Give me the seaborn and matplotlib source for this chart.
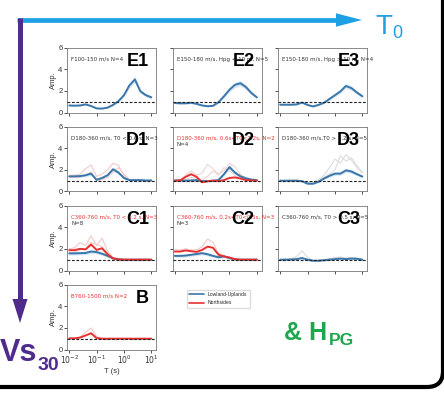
import matplotlib
matplotlib.use("Agg")
import matplotlib.pyplot as plt
import seaborn as sns
from matplotlib.patches import FancyBboxPatch, Polygon
from matplotlib.lines import Line2D

sns.set_theme(style="ticks")
plt.rcParams["font.family"] = ["Liberation Sans", "DejaVu Sans"]

# ---------------------------------------------------------------- data
period = [0.01, 0.0158, 0.0251, 0.0398, 0.0631, 0.1, 0.158, 0.251,
          0.398, 0.631, 1.0, 1.58, 2.51, 3.98, 6.31, 10.0]

E1_blue = [0.65, 0.63, 0.65, 0.75, 0.6, 0.38, 0.36, 0.45, 0.7, 1.05, 1.6, 2.5, 3.05, 1.95, 1.6, 1.4]
E2_blue = [0.88, 0.85, 0.85, 0.9, 0.8, 0.65, 0.58, 0.62, 0.95, 1.5, 2.1, 2.55, 2.7, 2.35, 1.8, 1.4]
E3_blue = [0.72, 0.72, 0.72, 0.75, 0.92, 0.7, 0.56, 0.7, 0.9, 1.25, 1.6, 1.95, 2.45, 2.25, 1.85, 1.5]

D1_blue = [1.4, 1.4, 1.42, 1.5, 1.65, 1.08, 1.25, 1.5, 2.05, 1.75, 1.25, 1.05, 1.05, 1.05, 1.02, 1.02]
D1_faint_a = [1.5, 1.5, 1.6, 2.1, 2.45, 1.4, 1.6, 2.0, 2.6, 2.4, 1.5, 1.1, 1.05, 1.05, 1.0, 1.0]
D1_faint_b = [1.3, 1.3, 1.35, 1.5, 1.8, 1.0, 1.1, 1.3, 1.8, 2.2, 1.6, 1.1, 1.02, 1.0, 1.0, 1.0]

D2_blue = [1.02, 1.02, 1.0, 1.02, 1.05, 0.95, 0.95, 1.0, 1.05, 1.6, 2.25, 1.75, 1.4, 1.22, 1.1, 1.05]
D2_red = [1.0, 1.02, 1.35, 1.6, 1.35, 0.85, 0.95, 1.0, 0.95, 1.05, 1.25, 1.3, 1.2, 1.05, 1.02, 1.0]
D2_faint_a = [1.0, 1.05, 1.5, 1.9, 1.5, 1.7, 2.5, 2.1, 1.6, 1.9, 2.6, 2.3, 1.6, 1.2, 1.05, 1.0]
D2_faint_b = [1.0, 1.0, 1.1, 1.3, 1.2, 1.0, 1.4, 1.9, 1.5, 2.2, 1.9, 1.5, 1.2, 1.1, 1.0, 1.0]

D3_blue = [1.0, 1.0, 1.0, 1.0, 0.95, 0.72, 0.72, 0.9, 1.2, 1.45, 1.65, 1.65, 1.95, 1.85, 1.6, 1.38]
D3_faint_a = [1.0, 1.0, 1.05, 1.0, 1.0, 0.8, 0.9, 1.1, 1.5, 2.2, 3.0, 2.6, 3.4, 2.9, 2.2, 1.7]
D3_faint_b = [1.0, 1.0, 1.0, 1.05, 1.0, 0.85, 0.8, 1.0, 1.3, 1.6, 2.0, 3.3, 2.8, 3.1, 2.4, 1.8]

C1_blue = [1.58, 1.58, 1.6, 1.62, 1.75, 1.7, 1.55, 1.35, 1.12, 1.03, 1.0, 1.0, 1.0, 1.0, 1.0, 1.0]
C1_red = [1.88, 1.88, 2.0, 1.95, 2.4, 1.9, 2.05, 1.5, 1.12, 1.02, 1.0, 1.0, 1.0, 1.0, 1.0, 1.0]
C1_faint_a = [2.0, 2.1, 2.6, 2.3, 3.2, 2.3, 3.0, 1.8, 1.2, 1.05, 1.0, 1.0, 1.0, 1.0, 1.0, 1.0]
C1_faint_b = [1.7, 1.7, 1.9, 2.0, 2.6, 2.4, 2.2, 1.6, 1.15, 1.02, 1.0, 1.0, 1.0, 1.0, 1.0, 1.0]

C2_blue = [1.35, 1.35, 1.38, 1.45, 1.52, 1.6, 1.5, 1.35, 1.22, 1.3, 1.15, 1.02, 1.0, 1.0, 1.0, 1.0]
C2_red = [1.75, 1.75, 1.85, 1.78, 1.72, 1.9, 2.2, 2.1, 1.45, 1.3, 1.2, 1.05, 1.0, 1.0, 1.0, 1.0]
C2_faint_a = [1.9, 1.9, 2.0, 1.9, 1.9, 2.2, 2.9, 2.6, 1.6, 1.4, 1.1, 1.0, 1.0, 1.0, 1.0, 1.0]

C3_blue = [1.0, 1.0, 1.02, 1.05, 1.15, 1.0, 0.9, 0.9, 0.95, 1.0, 1.05, 1.1, 1.05, 1.1, 1.08, 1.0]
C3_faint_a = [1.0, 1.05, 1.1, 1.3, 1.8, 1.2, 0.95, 0.95, 1.0, 1.1, 1.2, 1.25, 1.15, 1.2, 1.15, 1.05]

B_red = [1.02, 1.03, 1.1, 1.3, 1.5, 1.05, 1.0, 1.0, 1.0, 1.0, 1.0, 1.0, 1.0, 1.0, 1.0, 1.0]
B_faint_a = [1.05, 1.05, 1.15, 1.6, 2.0, 1.2, 1.0, 1.0, 1.0, 1.0, 1.0, 1.0, 1.0, 1.0, 1.0, 1.0]

xtick_values = [0.01, 0.1, 1, 10]
xtick_labels = [r"$10^{-2}$", r"$10^{-1}$", r"$10^{0}$", r"$10^{1}$"]
ytick_values = [0, 2, 4, 6]
legend_labels = ["Lowland-Uplands", "Northsides"]

# (label, row, col, note, note colour, second line, blue, red, faint curves, faint colour)
panels = [
    ("E1", 0, 0, "F100-150 m/s N=4", "#333333", None, E1_blue, None, [], None),
    ("E2", 0, 1, "E150-180 m/s, Hpg < 10 m, N=5", "#333333", None, E2_blue, None, [], None),
    ("E3", 0, 2, "E150-180 m/s, Hpg > 10 m, N=4", "#333333", None, E3_blue, None, [], None),
    ("D1", 1, 0, "D180-360 m/s, T0 < 0.6 s, N=3", "#333333", None, D1_blue, None,
     [D1_faint_a, D1_faint_b], "#f3c9c9"),
    ("D2", 1, 1, "D180-360 m/s, 0.6s<T0<1.2s, N=2", "#e8302f", "N=4", D2_blue, D2_red,
     [D2_faint_a, D2_faint_b], "#ecd6d6"),
    ("D3", 1, 2, "D180-360 m/s,T0 > 1.2 s, N=5", "#333333", None, D3_blue, None,
     [D3_faint_a, D3_faint_b], "#dcdcdc"),
    ("C1", 2, 0, "C360-760 m/s, T0 < 0.2 s, N=3", "#e8302f", "N=8", C1_blue, C1_red,
     [C1_faint_a, C1_faint_b], "#f3c9c9"),
    ("C2", 2, 1, "C360-760 m/s, 0.2s<T0<0.5s, N=3", "#e8302f", "N=3", C2_blue, C2_red,
     [C2_faint_a], "#f3c9c9"),
    ("C3", 2, 2, "C360-760 m/s, T0 > 0.5 s, N=5", "#333333", None, C3_blue, None,
     [C3_faint_a], "#dcdcdc"),
    ("B", 3, 0, "B760-1500 m/s N=2", "#e8302f", None, None, B_red,
     [B_faint_a], "#f3c9c9"),
]

# ---------------------------------------------------------------- style
W, H = 444, 393
BLUE = "#3a76a9"
RED = "#e8302f"
CYAN = "#1ea0e4"
PURPLE = "#4f2b8e"
GREEN = "#1ea64d"

col_left = [67, 172.5, 278]
row_top = [47.5, 126.5, 205.5, 284.5]
ax_w, ax_h = 89, 65


def rect(left, top, w, h):
    return [left / W, 1 - (top + h) / H, w / W, h / H]


fig = plt.figure(figsize=(W / 100, H / 100), dpi=100, facecolor="white")

# decoration layer in pixel coordinates
deco = fig.add_axes([0, 0, 1, 1], zorder=-1)
deco.set_xlim(0, W)
deco.set_ylim(H, 0)
deco.axis("off")

frame = FancyBboxPatch((-30, -30), 473, 417, boxstyle="round,pad=0,rounding_size=16",
                       fill=False, ec="black", lw=3.0)
deco.add_patch(frame)

deco.plot([17, 340], [20, 20], color=CYAN, lw=3.4, solid_capstyle="butt")
deco.add_patch(Polygon([(336, 13.3), (362, 20), (336, 26.7)], closed=True, color=CYAN, lw=0))
deco.plot([20, 20], [17.5, 302], color=PURPLE, lw=3.6, solid_capstyle="butt")
deco.add_patch(Polygon([(12.5, 299), (27.5, 299), (20, 323)], closed=True, color=PURPLE, lw=0))

deco.text(375, 34, "T", fontsize=20, color=CYAN, va="baseline", ha="left")
deco.text(392, 38.5, "0", fontsize=13, color=CYAN, va="baseline", ha="left")
deco.text(0, 361, "Vs", fontsize=22, color=PURPLE, fontweight="bold", va="baseline", ha="left")
deco.text(38, 370, "30", fontsize=14, color=PURPLE, fontweight="bold", va="baseline", ha="left")
deco.text(284, 340, "& H", fontsize=18, color=GREEN, fontweight="bold", va="baseline", ha="left")
deco.text(329, 345, "PG", fontsize=12.5, color=GREEN, fontweight="bold", va="baseline", ha="left")

for (label, row, col, note, note_color, note2, blue, red, faint, faint_color) in panels:
    ax = fig.add_axes(rect(col_left[col], row_top[row], ax_w, ax_h))
    ax.set_xscale("log")

    for curve in faint:
        sns.lineplot(x=period, y=curve, ax=ax, color=faint_color, lw=0.8, legend=False)
    if blue is not None:
        lo = [v * 0.9 for v in blue]
        hi = [v * 1.1 for v in blue]
        ax.fill_between(period, lo, hi, color="#a9d0ec", alpha=0.45, lw=0)
        sns.lineplot(x=period, y=blue, ax=ax, color=BLUE, lw=1.4, legend=False)
    if red is not None:
        sns.lineplot(x=period, y=red, ax=ax, color=RED, lw=1.4, legend=False)
    ax.axhline(1.0, color="#222222", lw=0.8, ls=(0, (2.5, 1.5)), zorder=5)

    ax.set_xlim(10 ** -2.08, 10 ** 1.17)
    ax.set_ylim(0, 6)
    ax.set_xticks(xtick_values)
    ax.xaxis.set_minor_locator(matplotlib.ticker.NullLocator())
    ax.set_yticks(ytick_values)
    ax.tick_params(length=2.2, width=0.6, pad=1, labelsize=5.5, colors="#333333")
    for s in ax.spines.values():
        s.set_color("#777777")
        s.set_linewidth(0.6)
        s.set_visible(True)

    if col == 0:
        ax.set_ylabel("Amp.", fontsize=5.5, labelpad=1, color="#333333")
    else:
        ax.set_yticklabels([])
        ax.set_ylabel("")
    if row == 3:
        ax.set_xticklabels(xtick_labels)
        ax.set_xlabel("T (s)", fontsize=5.5, labelpad=1, color="#333333")
    else:
        ax.set_xticklabels([])
        ax.set_xlabel("")

    ax.text(0.05, 0.82, note, transform=ax.transAxes, fontsize=4.0, color=note_color,
            va="center", ha="left", family=["DejaVu Sans"])
    if note2:
        ax.text(0.05, 0.72, note2, transform=ax.transAxes, fontsize=4.0, color="#333333",
                va="center", ha="left", family=["DejaVu Sans"])
    ax.text(0.92, 0.79, label, transform=ax.transAxes, fontsize=13, fontweight="bold",
            color="black", va="center", ha="right", zorder=10)

handles = [Line2D([], [], color=BLUE, lw=1.2), Line2D([], [], color=RED, lw=1.2)]
fig.legend(handles, legend_labels, loc="upper left", bbox_to_anchor=(184 / W, 1 - 287 / H),
           fontsize=3.6, frameon=True, handlelength=3.0, borderpad=0.5, labelspacing=0.7,
           edgecolor="#dddddd", fancybox=True, framealpha=1)

fig.savefig("out.png", dpi=100, facecolor="white")
